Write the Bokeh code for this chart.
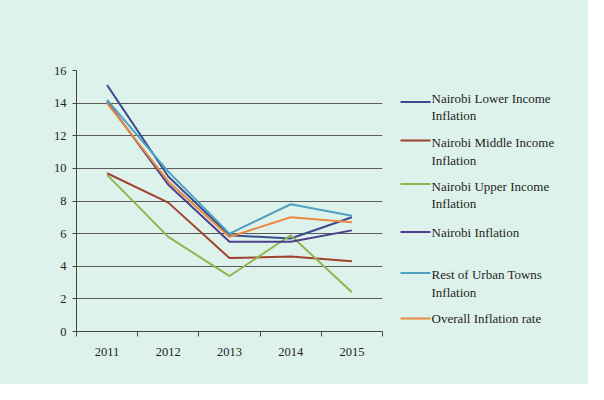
from bokeh.plotting import figure
from bokeh.models import Range1d, FixedTicker
from bokeh.layouts import row
from bokeh.core.properties import value
from bokeh.embed import file_html
from bokeh.resources import INLINE

# ---- data ----
years = ["2011", "2012", "2013", "2014", "2015"]
lower_income = [15.1, 9.5, 5.9, 5.7, 7.0]
middle_income = [9.7, 7.9, 4.5, 4.6, 4.3]
upper_income = [9.6, 5.8, 3.4, 5.9, 2.4]
nairobi = [14.1, 9.0, 5.5, 5.5, 6.2]
rest_urban = [14.2, 9.8, 6.0, 7.8, 7.1]
overall = [14.0, 9.2, 5.8, 7.0, 6.7]
y_ticks = [0, 2, 4, 6, 8, 10, 12, 14, 16]

series = [
    (["Nairobi Lower Income", "Inflation"], lower_income, "#3c4c8e"),
    (["Nairobi Middle Income", "Inflation"], middle_income, "#a0422c"),
    (["Nairobi Upper Income", "Inflation"], upper_income, "#8fb550"),
    (["Nairobi Inflation"], nairobi, "#4d3f8c"),
    (["Rest of Urban Towns", "Inflation"], rest_urban, "#4fa1c2"),
    (["Overall Inflation rate"], overall, "#ea8a3e"),
]

BG = "#def2ec"
FONT = "Liberation Serif"
W, H = 588, 384
MAIN_W = 386
FRAME_TOP, FRAME_BOTTOM = 70, 331

xs = list(range(len(years)))

p = figure(width=MAIN_W, height=H, output_backend="svg", toolbar_location=None,
           x_range=Range1d(-0.5, len(years) - 0.5), y_range=Range1d(0, 16),
           min_border_left=76, min_border_right=4, min_border_top=FRAME_TOP,
           min_border_bottom=H - FRAME_BOTTOM)
p.background_fill_color = BG
p.border_fill_color = BG
p.outline_line_color = None

# axes
p.xaxis.ticker = FixedTicker(ticks=xs, minor_ticks=[i - 0.5 for i in range(len(years) + 1)])
p.xaxis.major_label_overrides = {i: y for i, y in enumerate(years)}
p.xaxis.major_tick_line_color = None
p.xaxis.major_tick_out = 0
p.xaxis.major_tick_in = 0
p.xaxis.minor_tick_line_color = "#444444"
p.xaxis.minor_tick_out = 5
p.xaxis.minor_tick_in = 0
p.xaxis.major_label_standoff = 11
p.xaxis.axis_line_color = "#444444"

p.yaxis.ticker = FixedTicker(ticks=y_ticks)
p.yaxis.major_tick_out = 4
p.yaxis.major_tick_in = 0
p.yaxis.minor_tick_line_color = None
p.yaxis.major_tick_line_color = "#444444"
p.yaxis.axis_line_color = "#444444"
p.yaxis.major_label_standoff = 6

for ax in (p.xaxis, p.yaxis):
    ax.major_label_text_font = FONT
    ax.major_label_text_font_size = "12.5px"
    ax.major_label_text_color = "#222222"

p.xgrid.grid_line_color = None
p.ygrid.ticker = FixedTicker(ticks=y_ticks)
p.ygrid.grid_line_color = "#5a5a5a"
p.ygrid.grid_line_width = 1

for name, vals, color in series:
    p.line(xs, vals, line_color=color, line_width=2)

# ---- legend panel (coordinates = page pixels; frame aligned with main plot) ----
lg = figure(width=W - MAIN_W, height=H, output_backend="svg", toolbar_location=None,
            x_range=Range1d(0, W - MAIN_W), y_range=Range1d(FRAME_BOTTOM, FRAME_TOP),
            x_axis_type=None, y_axis_type=None,
            min_border_left=0, min_border_right=0, min_border_top=FRAME_TOP,
            min_border_bottom=H - FRAME_BOTTOM)
lg.background_fill_color = BG
lg.border_fill_color = BG
lg.outline_line_color = None
lg.grid.visible = False

legend_line_y = [101.5, 140, 183.5, 231.5, 272.5, 318]
legend_text_y = [(98, 114.5), (141.5, 160), (186, 202.5), (231.5,), (273.5, 291.5), (318,)]
gx0, gx1, tx = 14, 44, 45
for (name, vals, color), ly, tys in zip(series, legend_line_y, legend_text_y):
    lg.segment(x0=[gx0], y0=[ly], x1=[gx1], y1=[ly], line_color=color, line_width=2)
    lg.text(x=[tx] * len(name), y=list(tys), text=name,
            text_font=value(FONT), text_font_size="13px",
            text_color="#1e1e1e", text_baseline="middle", text_align="left")

layout = row(p, lg, spacing=0, styles={"background-color": BG})
open("out.html", "w").write(file_html(layout, INLINE))
